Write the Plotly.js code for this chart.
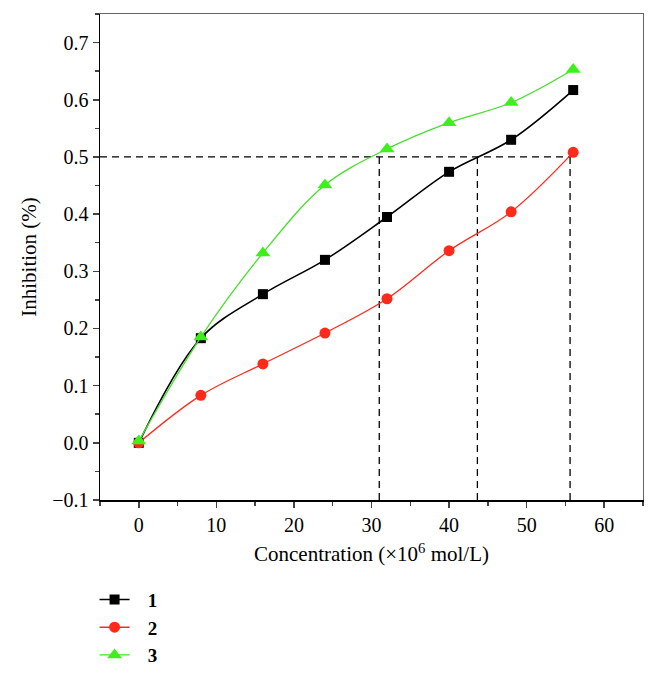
<!DOCTYPE html>
<html><head><meta charset="utf-8">
<script src="https://cdn.plot.ly/plotly-3.0.1.min.js"></script>
<style>html,body{margin:0;padding:0;background:#fff}#chart{width:657px;height:676px}</style>
</head><body><div id="chart"></div>
<script>
const concentration = [0, 8, 16, 24, 32, 40, 48, 56];
const series1 = [0.000, 0.183, 0.260, 0.320, 0.395, 0.474, 0.530, 0.617];
const series2 = [0.000, 0.083, 0.138, 0.192, 0.252, 0.336, 0.404, 0.508];
const series3 = [0.003, 0.185, 0.332, 0.451, 0.514, 0.560, 0.595, 0.653];
const seriesNames = ['1', '2', '3'];
const halfLevel = 0.5;
const ic50 = [31.0, 43.65, 55.6];
const xStart = -5;
const yBottom = -0.1;

const font = 'Liberation Serif, Times New Roman, serif';
const traces = [];
// dashed guide lines
traces.push({x: [xStart, ic50[2]], y: [halfLevel, halfLevel], mode: 'lines',
  line: {color: '#000', width: 1.3, dash: '7px,5px'}, showlegend: false, hoverinfo: 'skip'});
ic50.forEach(v => traces.push({x: [v, v], y: [halfLevel, yBottom], mode: 'lines',
  line: {color: '#000', width: 1.3, dash: '7px,5px'}, showlegend: false, hoverinfo: 'skip'}));

const pad = '\u2002\u2009';
traces.push({x: concentration, y: series1, name: pad + seriesNames[0], mode: 'lines+markers',
  line: {color: '#000', width: 1.6, shape: 'spline'}, marker: {symbol: 'square', size: 10, color: '#000'}});
traces.push({x: concentration, y: series2, name: pad + seriesNames[1], mode: 'lines+markers',
  line: {color: '#ff2a1a', width: 1.3, shape: 'spline'}, marker: {symbol: 'circle', size: 11, color: '#ff2a1a'}});
traces.push({x: concentration, y: series3, name: pad + seriesNames[2], mode: 'lines+markers',
  line: {color: '#44e02a', width: 1.3, shape: 'spline'}, marker: {symbol: 'triangle-up', size: 13, color: '#3cf01a'}});

const layout = {
  width: 657, height: 676,
  margin: {l: 100, r: 14, t: 14, b: 176, autoexpand: false},
  paper_bgcolor: '#fff', plot_bgcolor: '#fff',
  font: {family: font, size: 19, color: '#000'},
  showlegend: true,
  legend: {x: -0.01, xanchor: 'left', y: -0.166, yanchor: 'top', bgcolor: 'rgba(0,0,0,0)',
    font: {family: font, size: 19, color: '#000', weight: 'bold'}, tracegroupgap: 0},
  xaxis: {range: [-5, 65], dtick: 10, tick0: 0, ticks: 'outside', ticklen: 6, tickwidth: 1.5,
    showline: true, linecolor: '#000', linewidth: 1.5, showgrid: false, zeroline: false,
    tickfont: {family: font, size: 20}, minor: {dtick: 5, ticks: 'outside', ticklen: 4, tickwidth: 1.5},
    title: {text: 'Concentration (×10<sup>6</sup> mol/L)', font: {family: font, size: 21}, standoff: 12}},
  yaxis: {range: [-0.1, 0.75], dtick: 0.1, tick0: 0, ticks: 'outside', ticklen: 6, tickwidth: 1.5,
    tickformat: '.1f', showline: true, linecolor: '#000', linewidth: 1.5, showgrid: false, zeroline: false,
    tickfont: {family: font, size: 20}, minor: {dtick: 0.05, ticks: 'outside', ticklen: 4, tickwidth: 1.5},
    title: {text: 'Inhibition (%)', font: {family: font, size: 21}, standoff: 10}},
  xaxis2: {overlaying: 'x', side: 'top', range: [-5, 65], showline: true, linecolor: '#666', linewidth: 1,
    showticklabels: false, ticks: '', showgrid: false, zeroline: false},
  yaxis2: {overlaying: 'y', side: 'right', range: [-0.1, 0.75], showline: true, linecolor: '#666', linewidth: 1,
    showticklabels: false, ticks: '', showgrid: false, zeroline: false}
};
traces.push({x: [0], y: [0], xaxis: 'x2', yaxis: 'y2', mode: 'markers', marker: {opacity: 0}, showlegend: false, hoverinfo: 'skip'});
Plotly.newPlot('chart', traces, layout, {displayModeBar: false, staticPlot: true});
</script></body></html>
